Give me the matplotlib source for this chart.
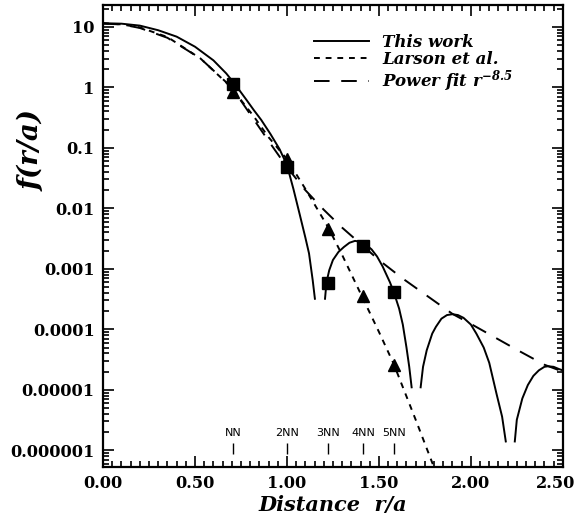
import numpy as np
import matplotlib
matplotlib.use("Agg")
from matplotlib import pyplot as plt
from matplotlib.transforms import ScaledTranslation
from matplotlib.ticker import FixedLocator, LogLocator, MultipleLocator, NullFormatter

plt.rcParams['font.family'] = ['DejaVu Serif']
plt.rcParams['mathtext.fontset'] = 'custom'
plt.rcParams['mathtext.it'] = 'DejaVu Serif:italic:bold'
plt.rcParams['mathtext.rm'] = 'DejaVu Serif:italic:bold'

# This work (|f|), branches separated by nan
work_x = [0.00, 0.10, 0.20, 0.30, 0.40, 0.50, 0.60, 0.67, 0.72, 0.78, 0.82, 0.86, 0.91, 0.96, 1.00,
          1.035, 1.07, 1.10, 1.12, 1.14, 1.152, np.nan,
          1.207, 1.215, 1.23, 1.25, 1.28, 1.31, 1.34, 1.37, 1.40, 1.43, 1.46, 1.49, 1.52, 1.56,
          1.58, 1.61, 1.63, 1.65, 1.665, 1.678, np.nan,
          1.727, 1.74, 1.76, 1.79, 1.81, 1.84, 1.87, 1.90, 1.93, 1.96, 2.00, 2.03, 2.07, 2.10,
          2.14, 2.17, 2.19, np.nan,
          2.239, 2.25, 2.28, 2.31, 2.34, 2.37, 2.40, 2.42, 2.45, 2.48, 2.50]
work_y = [11.5, 11.3, 10.5, 8.8, 6.9, 4.7, 2.8, 1.7, 1.1, 0.62, 0.42, 0.29, 0.17, 0.095, 0.052,
          0.021, 0.0078, 0.0033, 0.0018, 0.00065, 0.00032, np.nan,
          0.00032, 0.0006, 0.00095, 0.0014, 0.0019, 0.0023, 0.0027, 0.0029, 0.0028, 0.0025, 0.0021,
          0.0016, 0.0011, 0.0006,
          0.00042, 0.00022, 0.00012, 0.00005, 0.000024, 0.000011, np.nan,
          0.000011, 0.000024, 0.000045, 0.000085, 0.00011, 0.00015, 0.000172, 0.000178, 0.000172,
          0.000155, 0.00012, 0.000085, 0.00005, 0.000028, 0.0000085, 0.0000036, 0.0000014, np.nan,
          0.0000014, 0.0000032, 0.0000072, 0.000012, 0.000017, 0.000021, 0.000024, 0.0000245,
          0.000024, 0.000022, 0.000021]

# Larson et al.
larson_x = [0.00, 0.10, 0.20, 0.35, 0.53, 0.67, 0.71, 0.82, 0.90, 1.00, 1.10, 1.225, 1.30,
            1.406, 1.50, 1.58, 1.70, 1.80, 1.83]
larson_y = [11.5, 11.0, 9.8, 6.8, 3.0, 1.2, 0.88, 0.33, 0.15, 0.065, 0.021, 0.0048, 0.0017,
            0.00036, 0.000091, 0.000027, 0.0000032, 0.00000052, 0.00000032]

# Power fit r^-8.5
power_x = [0.00, 0.10, 0.20, 0.35, 0.53, 0.70, 0.80, 0.90, 1.00, 1.10, 1.20, 1.30, 1.40, 1.50,
           1.63, 1.75, 1.90, 2.00, 2.25, 2.40, 2.50]
power_y = [11.3, 11.0, 9.6, 6.6, 3.0, 1.0, 0.36, 0.13, 0.048, 0.020, 0.0095, 0.0048, 0.0026,
           0.0014, 0.00069, 0.00038, 0.00018, 0.000123, 0.000046, 0.000026, 0.000020]

# neighbour shells
shell_x = [0.707, 1.0, 1.225, 1.414, 1.581]
shell_names = ['NN', '2NN', '3NN', '4NN', '5NN']
square_y = [1.15, 0.048, 0.00058, 0.0024, 0.00042]
triangle_y = [0.85, 0.065, 0.0046, 0.00035, 0.000026]

ytick_vals = [1e-6, 1e-5, 1e-4, 1e-3, 1e-2, 1e-1, 1, 10]
ytick_labels = ['0.000001', '0.00001', '0.0001', '0.001', '0.01', '0.1', '1', '10']
xtick_vals = [0.0, 0.5, 1.0, 1.5, 2.0, 2.5]
xtick_labels = ['0.00', '0.50', '1.00', '1.50', '2.00', '2.50']

fig = plt.figure(figsize=(5.79, 5.22), dpi=100)
ax = fig.add_axes([0.178, 0.1054, 0.794, 0.885])

ax.plot(work_x, work_y, color='black', lw=1.4, label='This work')
ax.plot(larson_x, larson_y, color='black', lw=1.4, linestyle=(0, (3, 3)), label='Larson et al.')
ax.plot(power_x, power_y, color='black', lw=1.4, linestyle=(0, (8, 6)), label=r'Power fit $r^{-8.5}$')

ax.plot(shell_x, square_y, linestyle='none', marker='s', ms=8, color='black')
ax.plot(shell_x, triangle_y, linestyle='none', marker='^', ms=9, color='black')

for sx, name in zip(shell_x, shell_names):
    ax.vlines(sx, 8.8e-7, 1.3e-6, color='black', lw=1.0)
    ax.text(sx, 1.6e-6, name, ha='center', va='bottom', fontsize=8,
            family='DejaVu Sans')

ax.set_yscale('log')
ax.set_xlim(0, 2.5)
ax.set_ylim(5.3e-7, 23)

ax.yaxis.set_major_locator(FixedLocator(ytick_vals))
ax.set_yticklabels(ytick_labels)
ax.yaxis.set_minor_locator(LogLocator(base=10, subs=np.arange(2, 10), numticks=20))
ax.yaxis.set_minor_formatter(NullFormatter())
ax.set_xticks(xtick_vals)
ax.set_xticklabels(xtick_labels)
ax.xaxis.set_minor_locator(MultipleLocator(0.05))

ax.tick_params(which='both', direction='in', top=True, right=True, width=1.2)
ax.tick_params(which='major', length=8, labelsize=11.6, pad=6)
ax.tick_params(which='minor', length=4)
for lab in ax.get_xticklabels() + ax.get_yticklabels():
    lab.set_fontweight('bold')
# last x label sits a little left, inside the figure
last = ax.get_xticklabels()[-1]
last.set_transform(last.get_transform() + ScaledTranslation(-0.07, 0, fig.dpi_scale_trans))
for sp in ax.spines.values():
    sp.set_linewidth(1.6)

ax.set_xlabel('Distance  r/a', fontsize=15, fontweight='bold', style='italic', labelpad=2)
ax.set_ylabel('f(r/a)', fontsize=20, fontweight='bold', style='italic')
ax.yaxis.set_label_coords(-0.125, 0.685)

leg = ax.legend(loc='upper left', bbox_to_anchor=(0.44, 0.955), frameon=False,
                handlelength=3.3, handletextpad=0.8, labelspacing=0.0, borderpad=0,
                prop={'size': 12, 'weight': 'bold', 'style': 'italic'})

fig.savefig('out.png', dpi=100)
